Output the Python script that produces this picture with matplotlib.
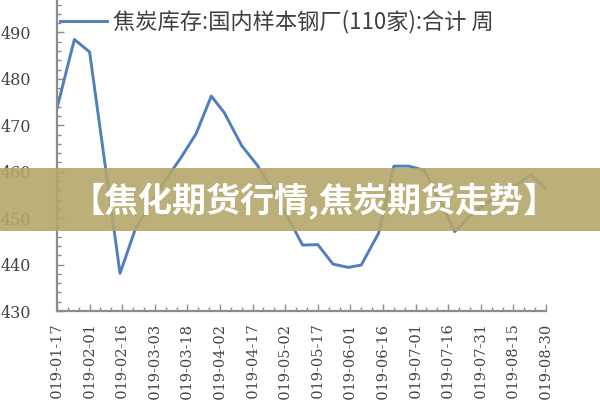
import numpy as np
import pandas as pd
import matplotlib
matplotlib.use("Agg")
import matplotlib.pyplot as plt
import matplotlib.dates as mdates
from matplotlib.patches import Rectangle
from matplotlib.ticker import MultipleLocator

## -------- data -------- ##
dates = ["2019-01-17", "2019-01-25", "2019-02-01", "2019-02-15", "2019-02-22",
         "2019-03-01", "2019-03-08", "2019-03-15", "2019-03-22", "2019-03-29",
         "2019-04-04", "2019-04-12", "2019-04-19", "2019-04-26", "2019-05-05",
         "2019-05-10", "2019-05-17", "2019-05-24", "2019-05-31", "2019-06-06",
         "2019-06-14", "2019-06-21", "2019-06-28", "2019-07-05", "2019-07-12",
         "2019-07-19", "2019-07-26", "2019-08-02", "2019-08-09", "2019-08-16",
         "2019-08-23", "2019-08-30"]
stock = [473.7, 488.5, 485.8, 438.1, 447.6,
         453.0, 458.3, 463.0, 468.2, 476.3,
         472.7, 465.6, 461.5, 456.3, 448.6,
         444.2, 444.3, 440.1, 439.4, 439.9,
         446.8, 461.2, 461.2, 460.3, 454.0,
         447.1, 450.5, 453.0, 455.5, 457.0,
         459.4, 456.3]

tick_dates = ["2019-01-17", "2019-02-01", "2019-02-16", "2019-03-03", "2019-03-18",
              "2019-04-02", "2019-04-17", "2019-05-02", "2019-05-17", "2019-06-01",
              "2019-06-16", "2019-07-01", "2019-07-16", "2019-07-31", "2019-08-15",
              "2019-08-30"]
y_ticks = [430, 440, 450, 460, 470, 480, 490]

series_name = "焦炭库存:国内样本钢厂(110家):合计 周"
banner = "【焦化期货行情,焦炭期货走势】"

x = pd.to_datetime(dates)
xt = pd.to_datetime(tick_dates)

plt.rcParams['font.family'] = ['Noto Sans CJK SC', 'DejaVu Sans']

fig = plt.figure(figsize=(6, 4), dpi=100)
ax = fig.add_axes([57/600, 1 - 311/400, (546 - 57)/600, 311/400])

ax.plot(x, stock, color="#4f7fbc", lw=2.1, label=series_name)

ax.set_xlim(xt[0], xt[-1])
ax.set_ylim(430, 497)

ax.set_xticks(xt)
ax.set_xticklabels(tick_dates, rotation=90, family="DejaVu Serif",
                   fontsize=10.5, color="#444444")
ax.set_xticks(pd.date_range(xt[0], xt[-1], freq="5D"), minor=True)

ax.set_yticks(y_ticks)
ax.set_yticklabels([str(v) for v in y_ticks], family="DejaVu Serif",
                   fontsize=11.5, color="#444444")
ax.yaxis.set_minor_locator(MultipleLocator(2))

ax.tick_params(axis="both", which="both", direction="in", color="#8c8c8c", width=1)
ax.tick_params(axis="x", which="major", length=5, pad=9)
ax.tick_params(axis="y", which="major", length=5, pad=18.5)
ax.tick_params(which="minor", length=3)

for s in ["top", "right"]:
    ax.spines[s].set_visible(False)
for s in ["left", "bottom"]:
    ax.spines[s].set_color("#8c8c8c")
    ax.spines[s].set_linewidth(1.6)

leg = ax.legend(loc="center left", bbox_to_anchor=(60/600, 1 - 22/400),
                bbox_transform=fig.transFigure, frameon=False, fontsize=16,
                handlelength=2.1, handletextpad=0.3, borderpad=0, borderaxespad=0)
for t in leg.get_texts():
    t.set_color("#404040")

# overlay banner across the middle
fig.patches.append(Rectangle((0, 1 - 231/400), 1, 63/400, transform=fig.transFigure,
                             facecolor="#b5a66a", alpha=0.9, zorder=10, edgecolor="none"))
fig.text(0.524, 1 - 201/400, banner, color="white", fontsize=24.5, fontweight="bold",
         ha="center", va="center", zorder=11)

fig.savefig("out.png", dpi=100)
